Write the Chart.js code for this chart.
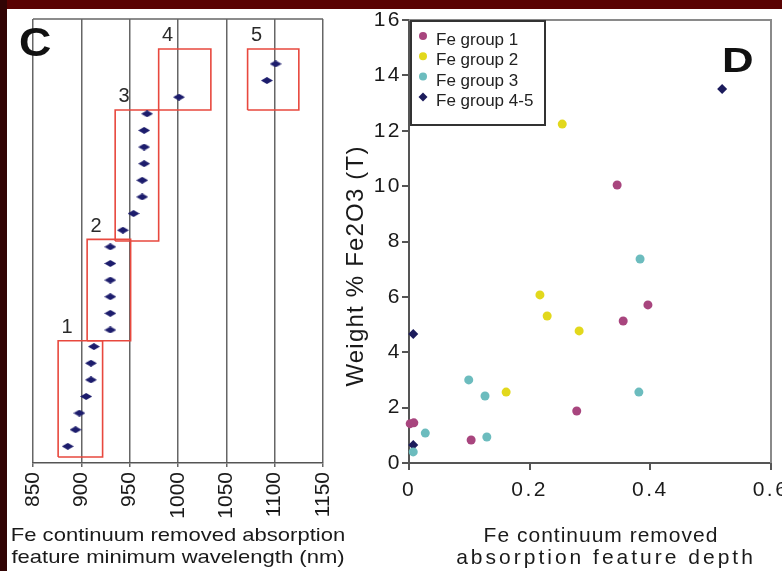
<!DOCTYPE html>
<html>
<head>
<meta charset="utf-8">
<script src="https://cdn.jsdelivr.net/npm/chart.js@4.4.1/dist/chart.umd.min.js"></script>
<style>
    html, body { margin: 0; padding: 0; background: #fff; }
    #page { position: relative; width: 782px; height: 571px; overflow: hidden; background: #fff; }
    #chartC { position: absolute; left: 8px; top: 0; }
    #chartD { position: absolute; left: 338px; top: 0; }
    #bandTop { position: absolute; left: 0; top: 0; width: 782px; height: 9px; background: #5a0202; }
    #bandLeft { position: absolute; left: 0; top: 0; width: 7px; height: 571px; background: #320404; }
</style>
</head>
<body>
<div id="page">
    <canvas id="chartC" width="345" height="571"></canvas>
    <canvas id="chartD" width="444" height="571"></canvas>
    <div id="bandTop"></div>
    <div id="bandLeft"></div>
</div>
<script>
// ===============================
// DATA - panel C (samples ranked by wavelength)
// ===============================
const rankC = [1, 2, 3, 4, 5, 6, 7, 8, 9, 10, 11, 12, 13, 14, 15, 16, 17, 18, 19, 20, 21, 22, 23, 24];
const wavelengthC = [886, 894, 898, 905, 910, 910, 913, 930, 930, 930, 930, 930, 930,
                     943, 954, 963, 963, 965, 965, 965, 968, 1001, 1092, 1101];
const wavelengthTicks = [850, 900, 950, 1000, 1050, 1100, 1150];

// group boxes (wavelength range x rank range)
const groupNames = ['1', '2', '3', '4', '5'];
const groupWlMin = [876, 906, 935, 980, 1072];
const groupWlMax = [922, 951, 980, 1034, 1125];
const groupRankMin = [0.36, 7.35, 13.35, 21.23, 21.23];
const groupRankMax = [7.35, 13.45, 21.23, 24.9, 24.9];

const xTitleC = ['Fe continuum removed absorption', 'feature minimum wavelength (nm)'];

// ===============================
// DATA - panel D (depth vs Fe2O3)
// ===============================
const seriesD = ['Fe group 1', 'Fe group 2', 'Fe group 3', 'Fe group 4-5'];
const depthG1 = [0.345, 0.396, 0.355, 0.278, 0.002, 0.008, 0.103];
const fe2o3G1 = [10.04, 5.71, 5.13, 1.88, 1.42, 1.45, 0.83];
const depthG2 = [0.254, 0.217, 0.229, 0.282, 0.161];
const fe2o3G2 = [12.24, 6.07, 5.31, 4.77, 2.56];
const depthG3 = [0.383, 0.099, 0.126, 0.381, 0.027, 0.129, 0.007];
const fe2o3G3 = [7.37, 3.0, 2.42, 2.56, 1.08, 0.94, 0.4];
const depthG45 = [0.519, 0.007, 0.007];
const fe2o3G45 = [13.51, 4.66, 0.65];
const depthTicks = [0, 0.2, 0.4, 0.6];
const fe2o3Ticks = [0, 2, 4, 6, 8, 10, 12, 14, 16];

const xTitleD = ['Fe continuum removed', 'absorption feature depth'];
const yTitleD = 'Weight % Fe2O3 (T)';

const FONT = '"Liberation Sans", Arial, Helvetica, sans-serif';

function toPoints(xs, ys) {
    return xs.map((v, i) => ({ x: v, y: ys[i] }));
}

// flat wide diamond like the original marker
function wideDiamond(w, h, color) {
    const c = document.createElement('canvas');
    c.width = w; c.height = h;
    const g = c.getContext('2d');
    g.fillStyle = color;
    g.beginPath();
    g.moveTo(0, h / 2); g.lineTo(w / 2, 0); g.lineTo(w, h / 2); g.lineTo(w / 2, h);
    g.closePath();
    g.fill();
    return c;
}

// ===============================
// PANEL C
// ===============================
const boxDatasets = groupNames.map((name, i) => ({
    label: 'group ' + name,
    data: [
        { x: groupWlMin[i], y: groupRankMin[i] },
        { x: groupWlMax[i], y: groupRankMin[i] },
        { x: groupWlMax[i], y: groupRankMax[i] },
        { x: groupWlMin[i], y: groupRankMax[i] },
        { x: groupWlMin[i], y: groupRankMin[i] }
    ],
    showLine: true,
    pointRadius: 0,
    borderColor: '#e8483e',
    borderWidth: 1.6,
    tension: 0
}));

const panelCDecor = {
    id: 'panelCDecor',
    afterDraw(chart) {
        const { ctx, chartArea: a, scales: { x, y } } = chart;
        ctx.save();
        // top edge of the frame
        ctx.strokeStyle = '#666';
        ctx.lineWidth = 1.5;
        ctx.beginPath();
        ctx.moveTo(a.left, a.top);
        ctx.lineTo(a.right, a.top);
        ctx.stroke();

        // group numbers over their boxes
        ctx.fillStyle = '#2a2a2a';
        ctx.font = '20px ' + FONT;
        ctx.textAlign = 'center';
        ctx.textBaseline = 'middle';
        groupNames.forEach((name, i) => {
            ctx.fillText(name, x.getPixelForValue(groupWlMin[i]) + 9, y.getPixelForValue(groupRankMax[i]) - 13);
        });

        // panel letter
        ctx.fillStyle = '#111';
        ctx.font = 'bold 40px ' + FONT;
        ctx.textAlign = 'left';
        ctx.textBaseline = 'alphabetic';
        ctx.save();
        ctx.translate(11, 56);
        ctx.scale(1.12, 1);
        ctx.fillText('C', 0, 0);
        ctx.restore();

        // axis title (a bit wide in the original)
        ctx.fillStyle = '#1a1a1a';
        ctx.font = '19px ' + FONT;
        ctx.textAlign = 'center';
        const cx = (a.left + a.right) / 2;
        xTitleC.forEach((line, i) => {
            ctx.save();
            ctx.translate(cx, 541 + 22 * i);
            ctx.scale(1.16, 1);
            ctx.fillText(line, 0, 0);
            ctx.restore();
        });
        ctx.restore();
    }
};

new Chart(document.getElementById('chartC'), {
    type: 'scatter',
    data: {
        datasets: [{
            label: 'wavelength',
            data: toPoints(wavelengthC, rankC),
            pointStyle: wideDiamond(12, 7, '#1c1c6c'),
            pointRadius: 5,
            clip: false
        }].concat(boxDatasets)
    },
    options: {
        responsive: false,
        animation: false,
        layout: { padding: { left: 25, right: 30, top: 19, bottom: 0 } },
        plugins: { legend: { display: false }, tooltip: { enabled: false } },
        scales: {
            x: {
                type: 'linear',
                min: 850,
                max: 1150,
                afterBuildTicks: s => { s.ticks = wavelengthTicks.map(v => ({ value: v })); },
                afterFit: s => { s.height = 108; s.paddingLeft = 0; s.paddingRight = 0; },
                grid: { color: '#666', lineWidth: 1.5, tickLength: 4, tickColor: '#666' },
                border: { color: '#555', width: 1.5 },
                ticks: {
                    autoSkip: false,
                    minRotation: 90,
                    maxRotation: 90,
                    padding: 5,
                    color: '#1a1a1a',
                    font: { family: FONT, size: 21 },
                    callback: v => String(v)
                }
            },
            y: { type: 'linear', min: 0, max: 26.7, display: false }
        }
    },
    plugins: [panelCDecor]
});

// ===============================
// PANEL D
// ===============================
const colorsD = ['#a8457e', '#e2d81c', '#6cbcbe', '#1c1c5c'];

const panelDDecor = {
    id: 'panelDDecor',
    beforeDraw(chart) {
        // tick labels of the original are spaced out
        chart.ctx.letterSpacing = '2.5px';
    },
    afterDraw(chart) {
        const { ctx, chartArea: a } = chart;
        ctx.letterSpacing = '0px';
        ctx.save();

        // top and right edges of the frame
        ctx.strokeStyle = '#8a8a8a';
        ctx.lineWidth = 2;
        ctx.beginPath();
        ctx.moveTo(a.left, a.top);
        ctx.lineTo(a.right, a.top);
        ctx.lineTo(a.right, a.bottom);
        ctx.stroke();

        // legend inside the plot
        const lx = a.left + 2, ly = a.top + 1;
        ctx.strokeStyle = '#333';
        ctx.lineWidth = 2;
        ctx.strokeRect(lx, ly, 134, 104);
        ctx.font = '17px ' + FONT;
        ctx.textAlign = 'left';
        ctx.textBaseline = 'alphabetic';
        chart.data.datasets.forEach((ds, i) => {
            const my = ly + 15 + 20.3 * i;
            const mx = lx + 12;
            ctx.fillStyle = ds.backgroundColor;
            ctx.beginPath();
            if (ds.pointStyle === 'rectRot') {
                ctx.moveTo(mx - 4.5, my); ctx.lineTo(mx, my - 4.5);
                ctx.lineTo(mx + 4.5, my); ctx.lineTo(mx, my + 4.5);
                ctx.closePath();
            } else {
                ctx.arc(mx, my, 4, 0, Math.PI * 2);
            }
            ctx.fill();
            ctx.fillStyle = '#222';
            ctx.fillText(ds.label, lx + 25, my + 9);
        });

        // panel letter
        ctx.fillStyle = '#111';
        ctx.font = 'bold 35px ' + FONT;
        ctx.save();
        ctx.translate(384, 72);
        ctx.scale(1.25, 1);
        ctx.fillText('D', 0, 0);
        ctx.restore();

        // axis titles
        ctx.fillStyle = '#1a1a1a';
        ctx.textAlign = 'center';
        ctx.font = '21px ' + FONT;
        ctx.letterSpacing = '1px';
        ctx.fillText(xTitleD[0], 263, 542);
        ctx.letterSpacing = '3px';
        ctx.fillText(xTitleD[1], 268, 564);

        ctx.font = '24px ' + FONT;
        ctx.letterSpacing = '1.2px';
        ctx.save();
        ctx.translate(25, 266);
        ctx.rotate(-Math.PI / 2);
        ctx.fillText(yTitleD, 0, 0);
        ctx.restore();

        ctx.restore();
        ctx.letterSpacing = '0px';
    }
};

const groupsD = [
    [depthG1, fe2o3G1],
    [depthG2, fe2o3G2],
    [depthG3, fe2o3G3],
    [depthG45, fe2o3G45]
];

new Chart(document.getElementById('chartD'), {
    type: 'scatter',
    data: {
        datasets: groupsD.map((g, i) => ({
            label: seriesD[i],
            data: toPoints(g[0], g[1]),
            backgroundColor: colorsD[i],
            borderColor: colorsD[i],
            borderWidth: 0,
            pointStyle: i === 3 ? 'rectRot' : 'circle',
            pointRadius: i === 3 ? 5 : 4.5,
            clip: false
        }))
    },
    options: {
        responsive: false,
        animation: false,
        layout: { padding: { left: 0, right: 11, top: 20, bottom: 0 } },
        plugins: { legend: { display: false }, tooltip: { enabled: false } },
        scales: {
            x: {
                type: 'linear',
                min: 0,
                max: 0.6,
                afterBuildTicks: s => { s.ticks = depthTicks.map(v => ({ value: v })); },
                afterFit: s => { s.height = 108; s.paddingLeft = 0; s.paddingRight = 0; },
                grid: { drawOnChartArea: false, tickLength: 7, tickColor: '#555', lineWidth: 2 },
                border: { color: '#555', width: 2 },
                ticks: {
                    autoSkip: false,
                    maxRotation: 0,
                    padding: 8,
                    color: '#1a1a1a',
                    font: { family: FONT, size: 21 },
                    callback: v => String(v)
                }
            },
            y: {
                type: 'linear',
                min: 0,
                max: 16,
                afterBuildTicks: s => { s.ticks = fe2o3Ticks.map(v => ({ value: v })); },
                afterFit: s => { s.width = 71; s.paddingTop = 0; s.paddingBottom = 0; },
                grid: { drawOnChartArea: false, tickLength: 7, tickColor: '#555', lineWidth: 2 },
                border: { color: '#555', width: 2 },
                ticks: {
                    padding: 0,
                    color: '#1a1a1a',
                    font: { family: FONT, size: 21 },
                    callback: v => String(v)
                }
            }
        }
    },
    plugins: [panelDDecor]
});
</script>
</body>
</html>
